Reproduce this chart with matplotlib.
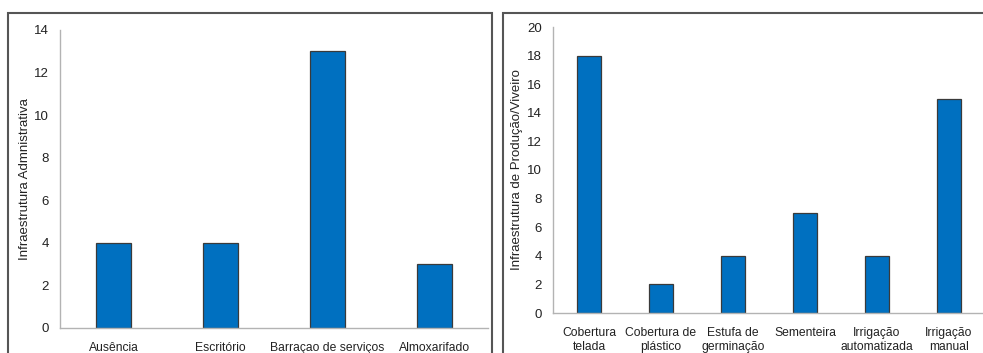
import matplotlib.pyplot as plt
from matplotlib.patches import Rectangle

plt.rcParams['font.family'] = ['Liberation Sans', 'DejaVu Sans']

# Infraestrutura administrativa
adm_cats = ['Ausência', 'Escritório', 'Barraçao de serviços', 'Almoxarifado']
adm_vals = [4, 4, 13, 3]

# Infraestrutura de produção / viveiro
prod_cats = ['Cobertura\ntelada', 'Cobertura de\nplástico', 'Estufa de\ngerminação',
             'Sementeira', 'Irrigação\nautomatizada', 'Irrigação\nmanual']
prod_vals = [18, 2, 4, 7, 4, 15]

W, H = 983, 353
fig = plt.figure(figsize=(W / 100, H / 100), dpi=100)

BAR = '#0070C0'
EDGE = '#3a3a3a'
AXIS = '#b3b3b3'


def px_axes(left, right, top, bottom):
    return fig.add_axes([left / W, 1 - bottom / H, (right - left) / W, (bottom - top) / H])


def style(ax):
    for s in ['top', 'right']:
        ax.spines[s].set_visible(False)
    for s in ['left', 'bottom']:
        ax.spines[s].set_color(AXIS)
        ax.spines[s].set_linewidth(1.0)
    ax.tick_params(axis='both', length=0, colors='#222222')
    ax.tick_params(axis='y', pad=8, labelsize=9.5)
    ax.tick_params(axis='x', pad=10, labelsize=8.7)


# frames around each panel
fig.patches.append(Rectangle((8 / W, -0.05), (492 - 8) / W, 1 - 13 / H + 0.05,
                             transform=fig.transFigure, fill=False,
                             edgecolor='#555555', linewidth=1.5))
fig.patches.append(Rectangle((503 / W, -0.05), 1.0, 1 - 13 / H + 0.05,
                             transform=fig.transFigure, fill=False,
                             edgecolor='#555555', linewidth=1.5))

ax1 = px_axes(60, 488, 30, 328)
x1 = range(len(adm_cats))
ax1.bar(x1, adm_vals, width=0.32, color=BAR, edgecolor=EDGE, linewidth=0.9)
ax1.set_xlim(-0.5, len(adm_cats) - 0.5)
ax1.set_ylim(0, 14)
ax1.set_yticks(range(0, 15, 2))
ax1.set_xticks(list(x1))
ax1.set_xticklabels(adm_cats)
ax1.set_ylabel('Infraestrutura Admnistrativa', fontsize=9.5, color='#222222')
ax1.yaxis.set_label_coords(-0.068, 0.5)
style(ax1)

ax2 = px_axes(553, 985, 27, 313)
x2 = range(len(prod_cats))
ax2.bar(x2, prod_vals, width=0.32, color=BAR, edgecolor=EDGE, linewidth=0.9)
ax2.set_xlim(-0.5, len(prod_cats) - 0.5)
ax2.set_ylim(0, 20)
ax2.set_yticks(range(0, 21, 2))
ax2.set_xticks(list(x2))
ax2.set_xticklabels(prod_cats, linespacing=1.2)
ax2.set_ylabel('Infraestrutura de Produção/Viveiro', fontsize=9.5, color='#222222')
ax2.yaxis.set_label_coords(-0.07, 0.5)
style(ax2)

fig.savefig('out.png', dpi=100)
